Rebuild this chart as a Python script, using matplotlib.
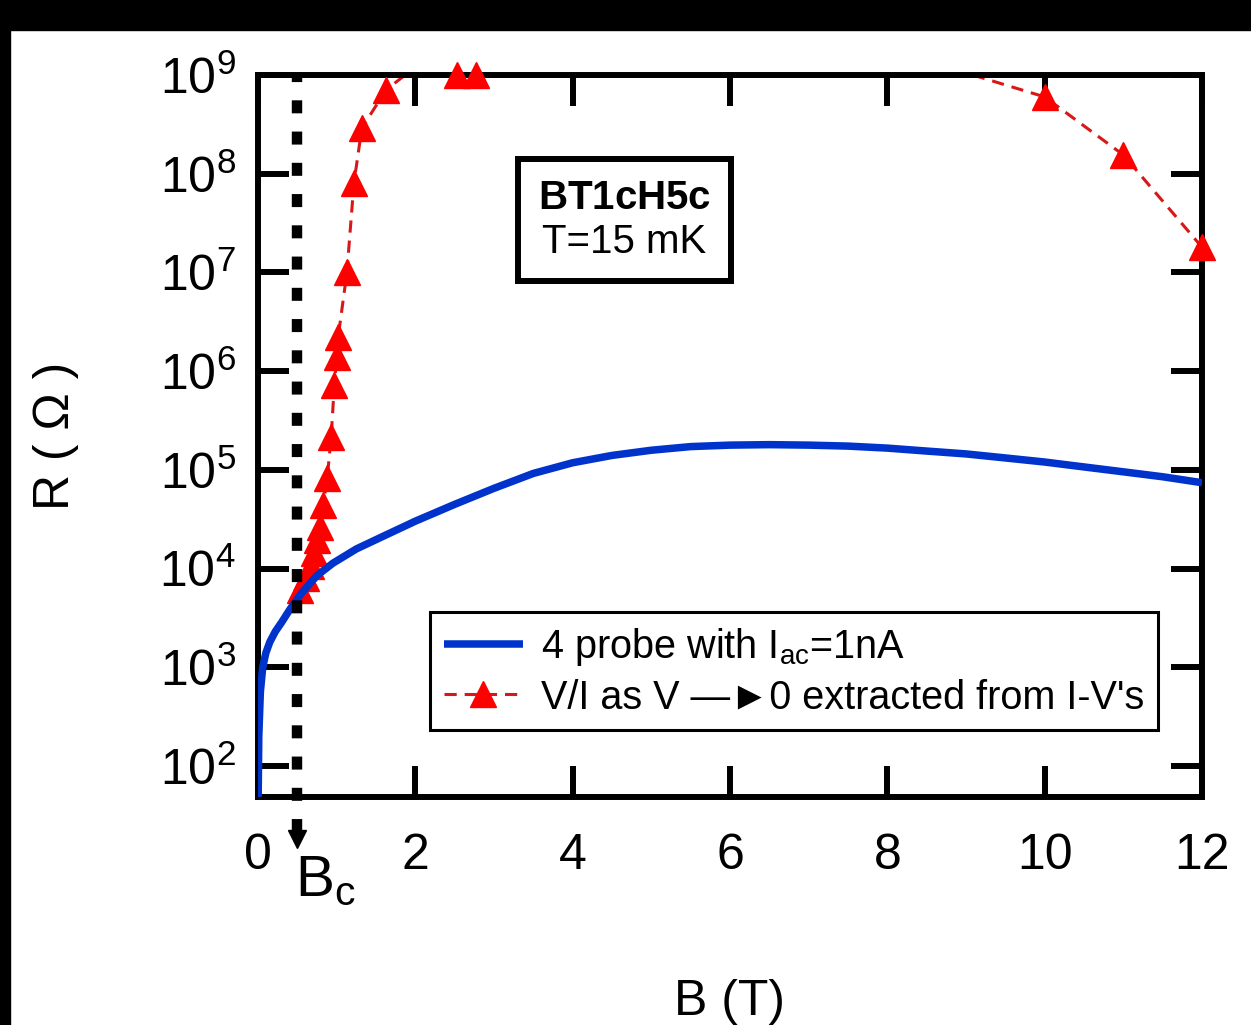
import matplotlib
matplotlib.use("Agg")
import matplotlib.pyplot as plt
import numpy as np
from matplotlib.patches import Rectangle
from matplotlib.legend_handler import HandlerTuple
from matplotlib.ticker import NullLocator

plt.rcParams['font.family'] = ['Liberation Sans', 'DejaVu Sans']
plt.rcParams['mathtext.fontset'] = 'custom'
plt.rcParams['mathtext.rm'] = 'Liberation Sans'
plt.rcParams['mathtext.it'] = 'Liberation Sans:italic'
plt.rcParams['mathtext.bf'] = 'Liberation Sans:bold'
plt.rcParams['mathtext.default'] = 'regular'

# 4 probe resistance, I_ac = 1 nA
b_4p = [0.0, 0.01, 0.03, 0.06, 0.1, 0.15, 0.22, 0.3, 0.4, 0.55, 0.75, 0.95,
        1.25, 1.6, 2.0, 2.5, 3.0, 3.5, 4.0, 4.5, 5.0, 5.5, 6.0, 6.5, 7.0,
        7.5, 8.0, 8.5, 9.0, 9.5, 10.0, 10.5, 11.0, 11.5, 12.0]
r_4p = [32, 200, 560, 1000, 1400, 1800, 2300, 2850, 3800, 5600, 8500, 11300,
        15800, 21400, 30200, 44700, 65000, 92000, 118000, 140000, 158000,
        172000, 178000, 180000, 178000, 174000, 166000, 155000, 145000,
        132000, 120000, 107000, 95500, 85100, 74100]

# V/I as V -> 0 from I-V curves (points above 1e9 are off scale)
b_iv = [0.53, 0.61, 0.67, 0.71, 0.75, 0.79, 0.83, 0.88, 0.93, 0.97, 1.00,
        1.02, 1.13, 1.22, 1.32, 1.63, 2.0, 2.53, 2.77, 9.0, 10.0, 11.0, 12.0]
r_iv = [6000, 8000, 10700, 14500, 19500, 26300, 43700, 83000, 214000,
        724000, 1.38e6, 2.24e6, 1.0e7, 8.1e7, 2.9e8, 7.1e8, 1.2e9, 1.0e9,
        1.0e9, 1.05e9, 6.0e8, 1.55e8, 1.8e7]

b_c = 0.5
r_max = 1e9
x_ticks = [0, 2, 4, 6, 8, 10, 12]
y_ticks = [1e2, 1e3, 1e4, 1e5, 1e6, 1e7, 1e8, 1e9]

fig = plt.figure(figsize=(12.51, 10.25), dpi=100)
ax = fig.add_axes([258 / 1251, 228 / 1025, 944 / 1251, 722 / 1025])

b_iv = np.array(b_iv)
r_iv = np.array(r_iv)
on_scale = r_iv <= r_max * 1.0001

red_line, = ax.plot(b_iv, r_iv, color='#d81818', lw=2.2, ls=(0, (4, 2.6)),
                    zorder=2)
red_pts, = ax.plot(b_iv[on_scale], r_iv[on_scale], ls='none', marker='^',
                   ms=19, color='#ff0000', mec='#ff0000', clip_on=False,
                   zorder=3.2)
blue, = ax.plot(b_4p, r_4p, color='#0033cc', lw=5.4, zorder=3.5,
                solid_capstyle='butt', solid_joinstyle='round')

# B_c marker: dotted line running below the axis with an arrow head
ax.axvline(b_c, ymin=-0.046, ymax=1.0, color='black', lw=7.5,
           ls=(0.2, (1.25, 1.75)), clip_on=False, zorder=4)
ax.plot([b_c], [-0.058], transform=ax.get_xaxis_transform(), marker='v',
        ms=13, color='black', clip_on=False, zorder=4)
ax.text(b_c - 0.03, -0.117, r'B$_\mathregular{c}$',
        transform=ax.get_xaxis_transform(),
        ha='left', va='center', fontsize=42)

ax.set_yscale('log')
ax.set_xlim(0, 12)
ax.set_ylim(48.5, r_max)
ax.set_xticks(x_ticks)
ax.set_yticks(y_ticks)
ax.yaxis.set_minor_locator(NullLocator())
ax.xaxis.set_minor_locator(NullLocator())
ax.tick_params(direction='in', length=22, width=4.3, labelsize=36,
               top=True, right=True)
ax.tick_params(axis='x', pad=26)
ax.tick_params(axis='y', pad=16)
for sp in ax.spines.values():
    sp.set_linewidth(4.3)

ax.set_xlabel('B (T)', fontsize=36, labelpad=72)
ax.set_ylabel('R ( Ω )', fontsize=36, labelpad=58)

ax.text(0.388, 0.799, r'$\mathbf{BT1cH5c}$' + '\nT=15 mK',
        transform=ax.transAxes, ha='center', va='center', fontsize=29,
        linespacing=1.2,
        bbox=dict(boxstyle='square,pad=0.5', fc='white', ec='black', lw=4.3))

leg = ax.legend([blue, (red_line, red_pts)],
                [r'4 probe with I$_\mathregular{ac}$=1nA',
                 "V/I as V \u2014\u25BA0 extracted from I-V's"],
                handler_map={tuple: HandlerTuple(ndivide=1)},
                loc='lower right', bbox_to_anchor=(0.953, 0.093),
                fontsize=28.5, frameon=True, fancybox=False, framealpha=1,
                edgecolor='black', borderpad=0.35, labelspacing=0.25,
                handlelength=2.0, handletextpad=0.45, borderaxespad=0)
leg.get_frame().set_linewidth(2.2)
leg.set_zorder(5)

# black border at top and left of the original image
fig.patches.append(Rectangle((0, 1 - 30 / 1025), 1, 30 / 1025,
                             transform=fig.transFigure, color='black'))
fig.patches.append(Rectangle((0, 0), 10 / 1251, 1,
                             transform=fig.transFigure, color='black'))

fig.savefig('out.png', dpi=100)
